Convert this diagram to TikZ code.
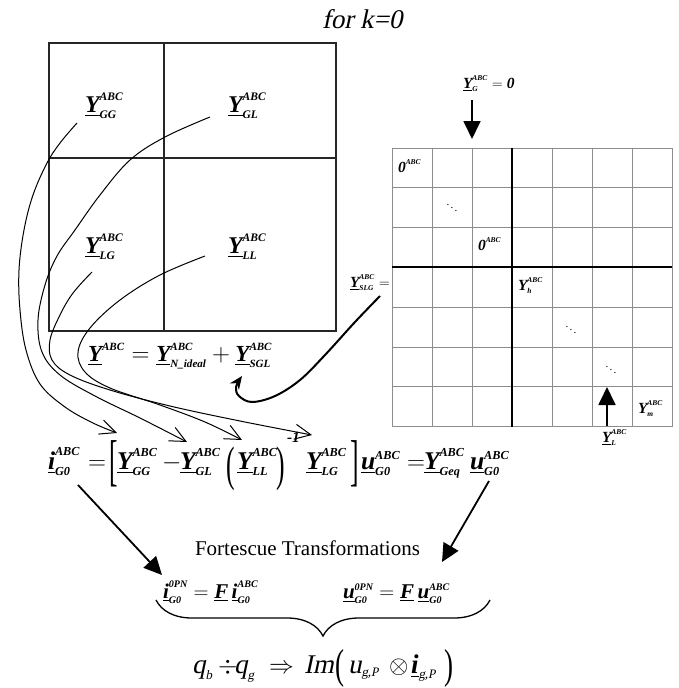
\documentclass[tikz,border=0pt]{standalone}
\usepackage{amsmath}
\usepackage{graphicx}
\usepackage{fontspec}
\setmainfont{Liberation Serif}[ItalicFont={Liberation Serif}, ItalicFeatures={FakeSlant=0.21}, BoldItalicFont={Liberation Serif Bold Italic}]
\usetikzlibrary{arrows.meta,decorations.pathreplacing}
\def\defaultscriptratio{.48}
\def\defaultscriptscriptratio{.4}
\newcommand\bi[1]{\text{\bfseries\itshape #1}}
\newcommand\ti[1]{\text{\itshape #1}}
\newcommand\uY{\underline{\bi{Y}}}
\newcommand\YY[1]{\uY^{\bi{ABC}}_{\bi{#1}}}
\newcommand\tdel[3]{\raisebox{#3}{\scalebox{1}[#2]{#1}}}
\definecolor{gridgray}{gray}{0.55}
\begin{document}
\begin{tikzpicture}[x=1pt,y=-1pt,
  lbl/.style={anchor=base west, inner sep=0pt, outer sep=0pt},
  mat/.style={font=\fontsize{24}{28}\selectfont},
  sm/.style={font=\fontsize{15.5}{18}\selectfont},
  eq/.style={font=\fontsize{25.5}{30}\selectfont},
  feq/.style={font=\fontsize{21}{25}\selectfont},
  bot/.style={font=\fontsize{27}{31}\selectfont},
  boxline/.style={draw=black!85, line width=1.2pt},
  gridline/.style={draw=gridgray, line width=1pt},
  thickline/.style={draw=black, line width=2pt},
  barb/.style={-{Straight Barb[length=16pt,width=15pt]}, line width=1pt},
  bigarrow/.style={-{Triangle[length=18pt,width=17pt]}, line width=1.8pt},
  looparrow/.style={-{Stealth[length=13pt,width=11pt]}, line width=2pt}]
\useasboundingbox (0,0) rectangle (678,688);
\fill[white] (0,0) rectangle (678,688);

% title
\node[lbl, font=\fontsize{27}{30}\selectfont\itshape] (title) at (322,28) {for k=0};

% left block matrix
\draw[boxline] (49,43) rectangle (336,331);
\draw[boxline] (164,43) -- (164,331);
\draw[boxline] (49,158) -- (336,158);
\node[lbl, mat] (Ygg) at (85,112) {$\YY{GG}$};
\node[lbl, mat] (Ygl) at (228,112) {$\YY{GL}$};
\node[lbl, mat] (Ylg) at (85,253) {$\YY{LG}$};
\node[lbl, mat] (Yll) at (228,253) {$\YY{LL}$};
\node[lbl, font=\fontsize{23}{27}\selectfont] (Ysum) at (88,361) {$\uY^{\bi{ABC}} = \YY{N\_ideal} + \YY{SGL}$};

% right grid
\foreach \i in {0,...,7} {
  \draw[gridline] ({392+40*\i},148) -- ({392+40*\i},426.6);
  \draw[gridline] (392,{148+39.8*\i}) -- (672,{148+39.8*\i});
}
\draw[thickline] (512,148) -- (512,426.6);
\draw[thickline] (392,267.4) -- (672,267.4);
\node[lbl, sm] (z1) at (398,172) {$\bi{0}^{\bi{ABC}}$};
\node[lbl, sm] (z2) at (478,250) {$\bi{0}^{\bi{ABC}}$};
\node[lbl, sm] (Yh) at (518,290) {$\bi{Y}^{\bi{ABC}}_{\bi{h}}$};
\node[lbl, sm] (Ym) at (638,413) {$\bi{Y}^{\bi{ABC}}_{\bi{m}}$};
\node[lbl, sm] (Yslg) at (350,287) {$\YY{SLG}=$};
\node[lbl, sm] (YG) at (463,88) {$\YY{G}=\bi{0}$};
\node[lbl, sm] (YL) at (602,442) {$\YY{L}$};
\node[font=\fontsize{11}{12}\selectfont] (d1) at (452,205) {$\ddots$};
\node[font=\fontsize{11}{12}\selectfont] (d2) at (571,327) {$\ddots$};
\node[font=\fontsize{11}{12}\selectfont] (d3) at (611,367) {$\ddots$};
\coordinate (gs) at (472,100);
\coordinate (ge) at (472,139);
\draw[bigarrow] (gs) -- (ge);
\coordinate (ls) at (607,426);
\coordinate (le) at (607,387);
\draw[bigarrow] (ls) -- (le);

% main equation
\node[lbl, eq] (iG) at (48,469) {$\underline{\bi{i}}^{\bi{ABC}}_{\bi{G0}}$};
\node[lbl, eq] (eqA) at (88,469) {$=$};
\node[lbl, eq] (lb) at (109,469) {\tdel{[}{2.2}{-10pt}};
\node[lbl, eq] (eGG) at (117,469) {$\YY{GG}$};
\node[lbl, eq] (mi) at (162,469) {$-$};
\node[lbl, eq] (eGL) at (180,469) {$\YY{GL}$};
\node[lbl, eq] (lp) at (226,469) {\tdel{(}{1.9}{-11pt}};
\node[lbl, eq] (eLL) at (237,469) {$\YY{LL}$};
\node[lbl, eq] (rp) at (276,469) {\tdel{)}{1.9}{-11pt}};
\node[lbl, sm] (inv) at (287,442) {$\bi{-1}$};
\node[lbl, eq] (eLG) at (306,469) {$\YY{LG}$};
\node[lbl, eq] (rb) at (350,469) {\tdel{]}{2.2}{-10pt}};
\node[lbl, eq] (uA) at (361,469) {$\underline{\bi{u}}^{\bi{ABC}}_{\bi{G0}}$};
\node[lbl, eq] (eqB) at (407,469) {$=$};
\node[lbl, eq] (eGeq) at (424,469) {$\YY{Geq}$};
\node[lbl, eq] (uB) at (470,469) {$\underline{\bi{u}}^{\bi{ABC}}_{\bi{G0}}$};

% curved connectors from the matrix blocks to the equation
\coordinate (sA) at (77,123);  \coordinate (tA) at (117,433);
\coordinate (sB) at (210,117); \coordinate (tB) at (187,442);
\coordinate (sC) at (92,272);  \coordinate (tC) at (312,435);
\coordinate (sD) at (205,256); \coordinate (tD) at (242,440);
\draw[barb] plot[smooth, tension=0.6] coordinates {(sA) (60,143) (47,163) (33,195) (24,230) (19,270) (20,310) (26,350) (40,384) (65,407) (93,423) (tA)};
\draw[barb] plot[smooth, tension=0.6] coordinates {(sB) (165,137) (130,160) (100,195) (75,230) (57,256) (45,285) (38,320) (42,352) (60,375) (95,396) (140,418) (tB)};
\draw[barb] plot[smooth, tension=0.6] coordinates {(sC) (73,293) (60,315) (50,340) (52,360) (70,375) (110,390) (170,406) (240,421) (tC)};
\draw[barb] plot[smooth, tension=0.6] coordinates {(sD) (160,275) (120,300) (90,328) (78,352) (85,372) (110,388) (160,405) (205,422) (tD)};

% loop arrow from Y_SLG to Y_SGL
\coordinate (sE) at (380,296);
\coordinate (tE) at (242,376);
\draw[looparrow] plot[smooth, tension=0.6] coordinates {(sE) (355,322) (325,355) (300,380) (275,396) (252,402) (239,396) (236,387) (tE)};

% Fortescue part
\coordinate (fL1) at (78,485); \coordinate (fL2) at (162,575);
\coordinate (fR1) at (489,481); \coordinate (fR2) at (442,562);
\draw[bigarrow] (fL1) -- (fL2);
\draw[bigarrow] (fR1) -- (fR2);
\node[lbl, font=\fontsize{21}{25}\selectfont] (fort) at (195,555) {Fortescue Transformations};
\node[lbl, feq] (fi) at (163,598) {$\underline{\bi{i}}^{\bi{0PN}}_{\bi{G0}} = \underline{\bi{F}}\,\underline{\bi{i}}^{\bi{ABC}}_{\bi{G0}}$};
\node[lbl, feq] (fu) at (343,598) {$\underline{\bi{u}}^{\bi{0PN}}_{\bi{G0}} = \underline{\bi{F}}\,\underline{\bi{u}}^{\bi{ABC}}_{\bi{G0}}$};
\coordinate (brL) at (156,600); \coordinate (brR) at (490,600);
\draw[line width=1.3pt, decorate, decoration={brace, amplitude=36pt, mirror}] (brL) -- (brR);

% bottom formula
\node[lbl, bot] (qb) at (192,673) {$\ti{q}_{\ti{b}}$};
\node[lbl, bot] (dv) at (218,673) {$\div$};
\node[lbl, bot] (qg) at (234,673) {$\ti{q}_{\ti{g}}$};
\node[lbl, bot] (ra) at (269,673) {$\Rightarrow$};
\node[lbl, bot] (Im) at (304,673) {$\ti{Im}$};
\node[lbl, bot] (bl) at (335,673) {\tdel{(}{1.55}{-5pt}};
\node[lbl, bot] (ug) at (348,673) {$\ti{u}_{\ti{g,P}}$};
\node[lbl, bot] (ot) at (389,673) {$\otimes$};
\node[lbl, bot] (ig) at (411,673) {$\underline{\bi{i}}_{\ti{g,P}}$};
\node[lbl, bot] (br) at (444,673) {\tdel{)}{1.55}{-5pt}};
\end{tikzpicture}
\end{document}
